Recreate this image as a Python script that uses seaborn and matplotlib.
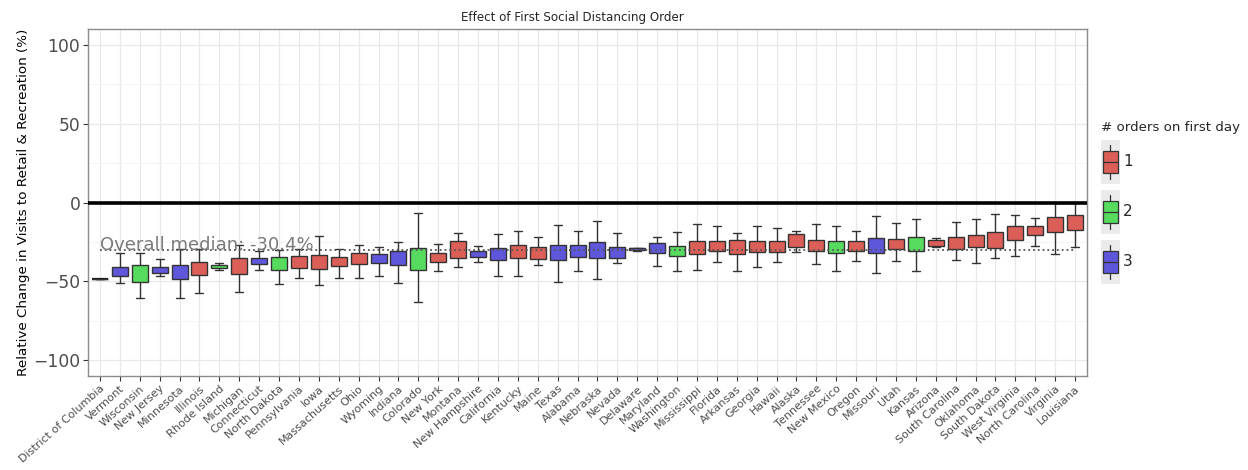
import matplotlib
matplotlib.use("Agg")
import matplotlib.pyplot as plt
from matplotlib.patches import Rectangle, Patch
from matplotlib.lines import Line2D
from matplotlib.legend_handler import HandlerBase
from matplotlib.ticker import MultipleLocator
import numpy as np
import pandas as pd
import seaborn as sns

# ---------------- data ----------------
states = ["District of Columbia", "Vermont", "Wisconsin", "New Jersey", "Minnesota",
          "Illinois", "Rhode Island", "Michigan", "Connecticut", "North Dakota",
          "Pennsylvania", "Iowa", "Massachusetts", "Ohio", "Wyoming", "Indiana",
          "Colorado", "New York", "Montana", "New Hampshire", "California",
          "Kentucky", "Maine", "Texas", "Alabama", "Nebraska", "Nevada", "Delaware",
          "Maryland", "Washington", "Mississippi", "Florida", "Arkansas", "Georgia",
          "Hawaii", "Alaska", "Tennessee", "New Mexico", "Oregon", "Missouri", "Utah",
          "Kansas", "Arizona", "South Carolina", "Oklahoma", "South Dakota",
          "West Virginia", "North Carolina", "Virginia", "Louisiana"]

orders = ["1", "3", "2", "3", "3", "1", "2", "1", "3", "2",
          "1", "1", "1", "1", "3", "3", "2", "1", "1", "3",
          "3", "1", "1", "3", "3", "3", "3", "3", "3", "2",
          "1", "1", "1", "1", "1", "1", "1", "2", "1", "3",
          "1", "2", "1", "1", "1", "1", "1", "1", "1", "1"]

whisker_low = [-48.3, -50.8, -60.7, -46.9, -60.3, -57.5, -42.5, -56.5, -42.9, -51.4,
               -47.6, -52.4, -48.0, -47.6, -46.5, -51.2, -62.8, -43.3, -41.2, -37.6,
               -46.9, -46.5, -39.5, -50.7, -43.7, -48.8, -38.4, -30.6, -40.1, -43.3,
               -42.9, -38.0, -43.3, -41.2, -38.0, -31.6, -39.1, -43.3, -36.9, -44.4,
               -36.9, -43.3, -28.5, -36.3, -38.4, -35.2, -33.8, -27.4, -32.7, -28.5]
q1 = [-48.3, -46.3, -50.5, -44.6, -48.6, -45.9, -41.8, -45.2, -39.1, -42.9,
      -41.4, -42.0, -40.3, -39.1, -38.4, -39.7, -42.9, -37.8, -35.0, -34.4,
      -36.3, -35.0, -35.7, -36.7, -34.4, -35.0, -35.0, -30.1, -32.3, -34.0,
      -32.7, -31.0, -32.7, -31.4, -31.6, -28.5, -31.0, -32.1, -31.0, -32.1,
      -29.5, -31.0, -27.4, -29.5, -28.5, -29.1, -23.8, -20.6, -18.9, -17.4]
medians = [-48.3, -43.3, -43.3, -42.7, -41.6, -40.8, -40.8, -38.0, -36.9, -37.4,
           -37.2, -37.2, -36.3, -35.7, -35.5, -34.6, -33.8, -34.6, -31.6, -32.7,
           -30.8, -30.8, -30.6, -30.6, -30.4, -30.1, -30.1, -29.6, -29.9, -30.1,
           -28.5, -27.6, -26.8, -27.0, -27.0, -26.3, -27.0, -25.9, -25.9, -25.9,
           -24.8, -25.3, -25.5, -24.8, -24.6, -23.1, -17.4, -17.6, -13.0, -11.9]
q3 = [-48.3, -40.8, -39.5, -40.8, -39.9, -37.6, -39.5, -35.0, -35.0, -34.6,
      -34.0, -33.5, -34.6, -32.3, -32.7, -30.6, -29.1, -32.1, -24.2, -31.0,
      -28.9, -27.0, -28.5, -27.0, -27.0, -24.8, -28.0, -29.1, -25.9, -27.6,
      -24.2, -24.6, -23.6, -24.2, -24.2, -20.0, -23.6, -24.2, -24.2, -22.5,
      -23.1, -21.7, -23.8, -21.7, -20.6, -18.5, -14.9, -15.1, -9.3, -7.9]
whisker_high = [-48.3, -32.3, -32.3, -35.7, -29.5, -29.5, -38.5, -27.0, -31.0, -29.9,
                -29.5, -21.0, -29.5, -27.0, -28.0, -24.8, -6.8, -26.3, -19.5, -27.4,
                -20.0, -17.8, -22.1, -14.2, -17.8, -11.5, -19.5, -28.6, -22.1, -18.5,
                -13.6, -15.1, -19.1, -14.6, -16.0, -18.0, -13.6, -14.6, -18.3, -8.3,
                -13.2, -10.4, -22.5, -12.5, -10.4, -7.2, -7.9, -9.8, 0.0, 0.0]

overall_median = -30.4
order_levels = ["1", "2", "3"]

# long-form table: the five summary values of each state
rows = []
for s, g, a, b, c, d, e in zip(states, orders, whisker_low, q1, medians, q3, whisker_high):
    for v in (a, b, c, d, e):
        rows.append({"state": s, "orders": g, "value": v})
df = pd.DataFrame(rows)

# ---------------- plot ----------------
sns.set_style("white")
plt.rcParams["font.family"] = ["DejaVu Sans"]

palette = dict(zip(order_levels, sns.color_palette("hls", 3)))

fig = plt.figure(figsize=(12.48, 4.70), dpi=100)
ax = fig.add_axes([88 / 1248, 1 - 376 / 470, (1087 - 88) / 1248, (376 - 29) / 470])

sns.boxplot(data=df, x="state", y="value", hue="orders", order=states,
            hue_order=order_levels, palette=palette, dodge=False, width=0.8,
            whis=(0, 100), showfliers=False, saturation=1, linecolor="#333333",
            linewidth=1.0, legend=False, ax=ax,
            medianprops={"color": "#1a1a1a", "linewidth": 1.6},
            boxprops={"zorder": 3}, whiskerprops={"zorder": 2.5})

ax.set_xlim(-0.6, len(states) - 0.4)
ax.set_ylim(-110, 110)
ax.set_yticks([-100, -50, 0, 50, 100])
ax.yaxis.set_minor_locator(MultipleLocator(25))

ax.grid(True, which="major", color="#e8e8e8", linewidth=0.9, zorder=0)
ax.grid(True, which="minor", axis="y", color="#f3f3f3", linewidth=0.6, zorder=0)
ax.set_axisbelow(True)

ax.axhline(0, color="black", linewidth=2.6, zorder=4)
ax.hlines(overall_median, 0, len(states) - 1, colors="#555555", linestyles=":",
          linewidth=1.3, zorder=6)
ax.text(0, overall_median + 0.4, f"Overall median: {overall_median}%", color="#7a7a7a",
        fontsize=13, ha="left", va="baseline", zorder=7)

for sp in ax.spines.values():
    sp.set_color("#8c8c8c")
    sp.set_linewidth(1.0)

ax.tick_params(axis="y", which="major", labelsize=12.3, labelcolor="#4d4d4d",
               color="#333333", length=3.5, width=0.8, left=True, pad=2)
ax.tick_params(axis="x", which="major", labelsize=8.0, labelcolor="#4d4d4d",
               color="#333333", length=3.5, width=0.8, bottom=True, pad=2)
ax.tick_params(which="minor", length=0)
plt.setp(ax.get_xticklabels(), rotation=42, ha="right", rotation_mode="anchor")

ax.set_xlabel("")
ax.set_ylabel("Relative Change in Visits to Retail & Recreation (%)", fontsize=9.7,
              color="black")
ax.yaxis.set_label_coords(-0.058, 0.5)
ax.set_title("Effect of First Social Distancing Order", fontsize=8.6, x=0.4845, pad=5.5)


class HandlerBox(HandlerBase):
    def create_artists(self, legend, orig_handle, xdescent, ydescent, width, height,
                       fontsize, trans):
        x0, y0 = -xdescent, -ydescent
        h = height
        cx = x0 + width / 2
        bw = width * 0.76
        bg = Rectangle((x0, y0), width, h, facecolor="#ebebeb", edgecolor="none",
                       transform=trans)
        wh = Line2D([cx, cx], [y0 + h * 0.12, y0 + h * 0.88], color="#333333",
                    linewidth=0.9, transform=trans)
        box = Rectangle((cx - bw / 2, y0 + h * 0.25), bw, h * 0.5,
                        facecolor=orig_handle.get_facecolor(), edgecolor="#333333",
                        linewidth=0.9, transform=trans)
        med = Line2D([cx - bw / 2, cx + bw / 2], [y0 + h * 0.5] * 2,
                     color="#333333", linewidth=0.9, transform=trans)
        return [bg, wh, box, med]


handles = [Patch(facecolor=palette[k]) for k in order_levels]
leg = ax.legend(handles, order_levels, title="# orders on first day",
                handler_map={h: HandlerBox() for h in handles},
                loc="center left", bbox_to_anchor=(1.0, 0.5), frameon=False,
                fontsize=11, title_fontsize=9.6, handlelength=1.25, handleheight=4.06,
                labelspacing=0.4, handletextpad=0.2, borderaxespad=0.5,
                alignment="left")

fig.savefig("out.png", dpi=100)
